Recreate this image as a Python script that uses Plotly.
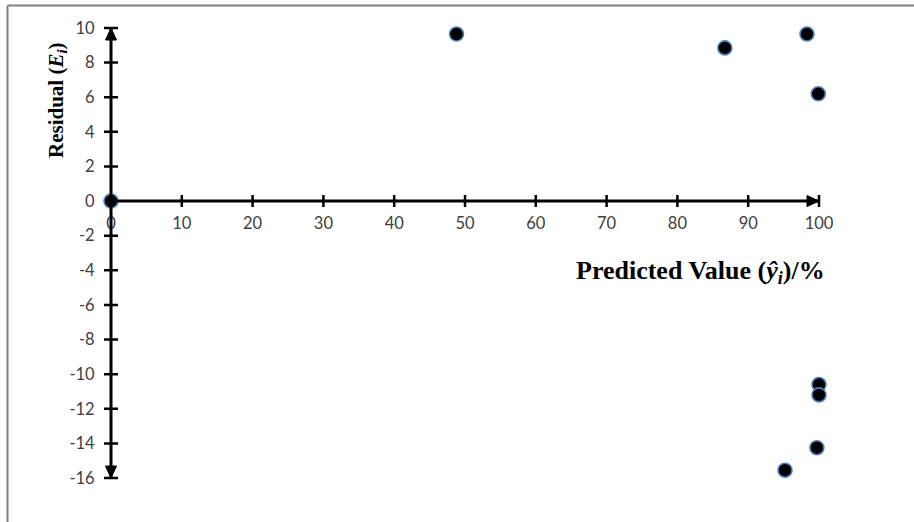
import plotly.graph_objects as go

# Data
pred = [0, 48.8, 86.7, 98.3, 99.9, 100.0, 100.0, 99.7, 95.2]
resid = [0, 9.65, 8.85, 9.65, 6.2, -10.6, -11.2, -14.25, -15.55]
x_ticks = [0, 10, 20, 30, 40, 50, 60, 70, 80, 90, 100]
y_ticks = [-16, -14, -12, -10, -8, -6, -4, -2, 0, 2, 4, 6, 8, 10]
y_tick_text = [str(v) for v in y_ticks]
x_tick_text = [str(v) for v in x_ticks]

W, H = 914, 522
PX0, PX100 = 111.0, 819.0      # pixel x of x=0 and x=100
PY10, PYM16 = 28.0, 478.0      # pixel y of y=10 and y=-16
sx = (PX100 - PX0) / 100.0
sy = (PYM16 - PY10) / 26.0
xr = [-3, 104]
yr = [-17, 11]
xdom = [(PX0 + xr[0] * sx) / W, (PX0 + xr[1] * sx) / W]
ydom = [(H - (PYM16 + (yr[0] + 16) * -sy)) / H, (H - (PY10 - (yr[1] - 10) * sy)) / H]
xpos_frac = PX0 / W
py0 = PY10 + 10 * sy
ypos_frac = (H - py0) / H

fig = go.Figure()
fig.add_trace(go.Scatter(
    x=pred, y=resid, mode="markers",
    marker=dict(size=14, color="black", line=dict(width=1.6, color="#4F81BD")),
    showlegend=False,
))

ax_line = dict(color="black", width=3)
shapes = []
# frame (top and left edges)
shapes.append(dict(type="line", xref="paper", yref="paper", x0=7.5 / W, x1=1, y0=(H - 5.5) / H, y1=(H - 5.5) / H,
                   line=dict(color="#7f7f7f", width=2)))
shapes.append(dict(type="line", xref="paper", yref="paper", x0=7.5 / W, x1=7.5 / W, y0=0, y1=(H - 5.5) / H,
                   line=dict(color="#7f7f7f", width=2)))
# axis lines
shapes.append(dict(type="line", xref="x", yref="y", x0=0, x1=0, y0=y_ticks[0], y1=y_ticks[-1], line=ax_line))
shapes.append(dict(type="line", xref="x", yref="y", x0=0, x1=x_ticks[-1], y0=0, y1=0, line=ax_line))
# arrowheads (pixel-sized paths anchored at axis ends)
shapes.append(dict(type="path", xref="x", yref="y", xsizemode="pixel", ysizemode="pixel",
                   xanchor=0, yanchor=y_ticks[-1], path="M-5.5,-12 L5.5,-12 L0,0 Z",
                   fillcolor="black", line=dict(color="black", width=1)))
shapes.append(dict(type="path", xref="x", yref="y", xsizemode="pixel", ysizemode="pixel",
                   xanchor=0, yanchor=y_ticks[0], path="M-5.5,12 L5.5,12 L0,0 Z",
                   fillcolor="black", line=dict(color="black", width=1)))
shapes.append(dict(type="path", xref="x", yref="y", xsizemode="pixel", ysizemode="pixel",
                   xanchor=x_ticks[-1], yanchor=0, path="M-12,-5.5 L-12,5.5 L0,0 Z",
                   fillcolor="black", line=dict(color="black", width=1)))
# cross tick marks
for t in x_ticks:
    if t == 0:
        continue
    shapes.append(dict(type="line", xref="x", yref="y", ysizemode="pixel", yanchor=0,
                       x0=t, x1=t, y0=-6, y1=6, line=dict(color="black", width=2.5)))
for t in y_ticks:
    if t == 0:
        continue
    shapes.append(dict(type="line", xref="x", yref="y", xsizemode="pixel", xanchor=0,
                       y0=t, y1=t, x0=-7, x1=7, line=dict(color="black", width=2.5)))

annotations = [
    dict(x=700 / W, y=(H - 272) / H, xref="paper", yref="paper", showarrow=False,
         text="<b>Predicted Value (<i>ŷ</i><sub><i>i</i></sub>)/%</b>",
         font=dict(family="Liberation Serif", size=26, color="black"),
         xanchor="center", yanchor="middle"),
    dict(x=57 / W, y=(H - 100) / H, xref="paper", yref="paper", showarrow=False,
         text="<b>Residual (<i>E</i><sub><i>i</i></sub>)</b>", textangle=-90,
         font=dict(family="Liberation Serif", size=21, color="black"),
         xanchor="center", yanchor="middle"),
]

fig.update_layout(
    width=W, height=H, margin=dict(l=0, r=0, t=0, b=0),
    paper_bgcolor="white", plot_bgcolor="white",
    shapes=shapes, annotations=annotations,
    xaxis=dict(domain=xdom, range=xr, anchor="free", position=ypos_frac,
               tickvals=x_ticks, ticktext=x_tick_text, ticks="outside", ticklen=7,
               tickcolor="rgba(0,0,0,0)", fixedrange=True,
               showgrid=False, zeroline=False, showline=False,
               tickfont=dict(family="Lato", size=16.5, color="#404040")),
    yaxis=dict(domain=ydom, range=yr, anchor="free", position=xpos_frac,
               tickvals=y_ticks, ticktext=y_tick_text, ticks="outside", ticklen=13,
               tickcolor="rgba(0,0,0,0)", fixedrange=True,
               showgrid=False, zeroline=False, showline=False,
               tickfont=dict(family="Lato", size=16.5, color="#404040")),
)

fig.write_html("out.html", config={"staticPlot": True})
